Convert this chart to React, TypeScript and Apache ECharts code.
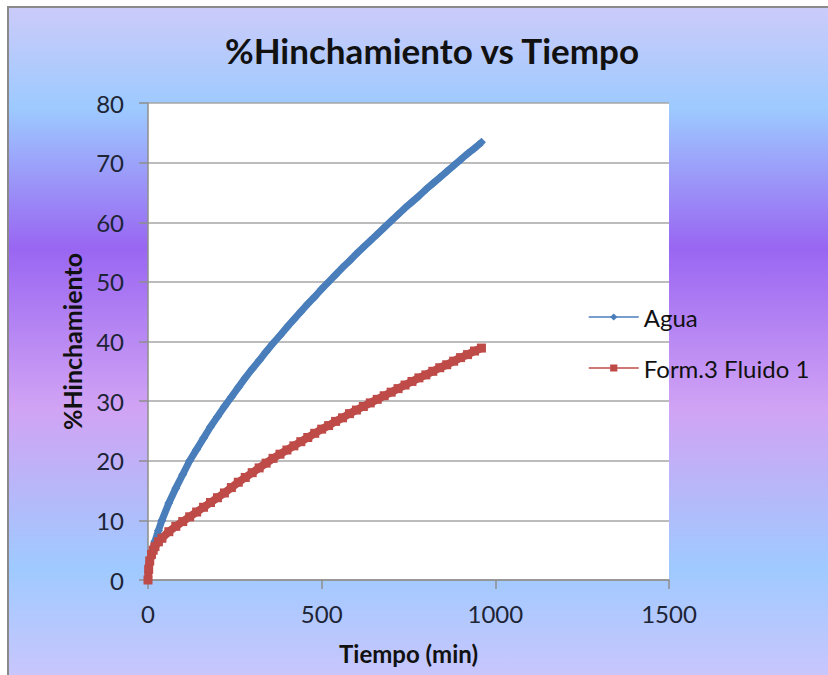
import React, { useEffect, useRef } from "react";
import * as echarts from "echarts";

// Sampling times (min)
const tiempo = [
  0, 2, 5, 10, 15, 20, 30, 40, 60, 80, 100, 120, 140, 160, 180, 200, 220, 240,
  260, 280, 300, 320, 340, 360, 380, 400, 420, 440, 460, 480, 500, 520, 540,
  560, 580, 600, 620, 640, 660, 680, 700, 720, 740, 760, 780, 800, 820, 840,
  860, 880, 900, 920, 940, 960,
];

// % swelling in water
const agua = [
  0, 1.5, 2.7, 4.2, 5.4, 6.5, 8.3, 10.0, 12.9, 15.4, 17.7, 20.0, 21.9, 23.8,
  25.7, 27.4, 29.1, 30.7, 32.3, 33.9, 35.4, 36.8, 38.3, 39.7, 41.0, 42.4, 43.7,
  45.0, 46.3, 47.5, 48.8, 50.0, 51.2, 52.4, 53.5, 54.7, 55.8, 56.9, 58.0, 59.1,
  60.2, 61.3, 62.4, 63.4, 64.4, 65.5, 66.5, 67.5, 68.5, 69.5, 70.5, 71.5, 72.4,
  73.4,
];

// % swelling in Form.3 Fluido 1
const form3 = [
  0, 1.8, 3.2, 4.3, 5.0, 5.6, 6.4, 7.0, 8.1, 9.0, 9.8, 10.6, 11.4, 12.2, 13.0,
  13.8, 14.6, 15.5, 16.4, 17.2, 18.0, 18.8, 19.6, 20.4, 21.1, 21.8, 22.5, 23.2,
  23.9, 24.6, 25.3, 25.9, 26.6, 27.2, 27.9, 28.5, 29.1, 29.7, 30.3, 30.9, 31.5,
  32.1, 32.7, 33.3, 33.9, 34.4, 35.0, 35.6, 36.1, 36.7, 37.3, 37.8, 38.4, 38.9,
];

const xTicks = { min: 0, max: 1500, interval: 500 };
const yTicks = { min: 0, max: 80, interval: 10 };

const FONT = "Lato, 'Open Sans', sans-serif";
const LABEL_COLOR = "#1d2436";

export default function App() {
  const ref = useRef<HTMLDivElement>(null);

  useEffect(() => {
    if (!ref.current) return;
    const chart = echarts.init(ref.current, null, { renderer: "svg" });
    const pairs = (ys: number[]) => tiempo.map((t, i) => [t, ys[i]]);

    chart.setOption({
      animation: false,
      backgroundColor: "transparent",
      title: {
        text: "%Hinchamiento vs Tiempo",
        left: 427,
        top: 27,
        textAlign: "center",
        textStyle: {
          fontFamily: FONT,
          fontWeight: "bold",
          fontSize: 35,
          color: "#111111",
        },
      },
      grid: {
        left: 148,
        right: 159,
        top: 103,
        bottom: 95,
        show: true,
        backgroundColor: "#ffffff",
        borderWidth: 0,
      },
      legend: {
        orient: "vertical",
        left: 588,
        top: 305,
        padding: 0,
        itemWidth: 50,
        itemHeight: 9,
        itemGap: 27,
        lineStyle: { width: 1.5 },
        textStyle: { fontFamily: FONT, fontSize: 24, color: "#111111" },
        data: ["Agua", "Form.3 Fluido 1"],
      },
      xAxis: {
        type: "value",
        ...xTicks,
        name: "Tiempo (min)",
        nameLocation: "middle",
        nameGap: 61,
        nameTextStyle: {
          fontFamily: FONT,
          fontWeight: "bold",
          fontSize: 24,
          color: "#111111",
        },
        axisLine: { show: true, lineStyle: { color: "#8e8e8e", width: 1.5 } },
        axisTick: { show: true, length: 9, lineStyle: { color: "#8e8e8e", width: 1.5 } },
        axisLabel: {
          fontFamily: FONT,
          fontSize: 24,
          color: LABEL_COLOR,
          margin: 21,
          formatter: (v: number) => String(v),
        },
        splitLine: { show: false },
      },
      yAxis: {
        type: "value",
        ...yTicks,
        name: "%Hinchamiento",
        nameLocation: "middle",
        nameGap: 64,
        nameTextStyle: {
          fontFamily: FONT,
          fontWeight: "bold",
          fontSize: 25,
          color: "#111111",
        },
        axisLine: { show: true, lineStyle: { color: "#8e8e8e", width: 1.5 } },
        axisTick: { show: true, length: 9, lineStyle: { color: "#8e8e8e", width: 1.5 } },
        axisLabel: { fontFamily: FONT, fontSize: 24, color: LABEL_COLOR, margin: 24 },
        splitLine: { show: true, lineStyle: { color: "#a6a6a6", width: 1.5 } },
      },
      series: [
        {
          name: "Agua",
          type: "line",
          data: pairs(agua),
          symbol: "diamond",
          symbolSize: 9,
          showSymbol: true,
          itemStyle: { color: "#4a7ebb" },
          lineStyle: { color: "#4a7ebb", width: 7 },
          z: 3,
        },
        {
          name: "Form.3 Fluido 1",
          type: "line",
          data: pairs(form3),
          symbol: "rect",
          symbolSize: 9,
          showSymbol: true,
          itemStyle: { color: "#be4b48" },
          lineStyle: { color: "#be4b48", width: 8 },
          z: 4,
        },
      ],
    });

    return () => chart.dispose();
  }, []);

  return (
    <div
      style={{
        position: "fixed",
        left: 0,
        top: 0,
        width: 828,
        height: 675,
        overflow: "hidden",
        background: "#ffffff",
      }}
    >
      <div
        style={{
          position: "absolute",
          left: 7,
          top: 6,
          width: 850,
          height: 700,
          borderLeft: "2px solid #8a8a8a",
          borderTop: "2px solid #8a8a8a",
          background:
            "linear-gradient(to bottom, #cbcbf9 0px, #9dcaff 100px, #9966f2 240px, #d1a3f4 400px, #9fcaff 560px, #c9c6fd 670px, #cccaff 700px)",
        }}
      />
      <div
        ref={ref}
        style={{ position: "absolute", left: 0, top: 0, width: 828, height: 675 }}
      />
    </div>
  );
}
